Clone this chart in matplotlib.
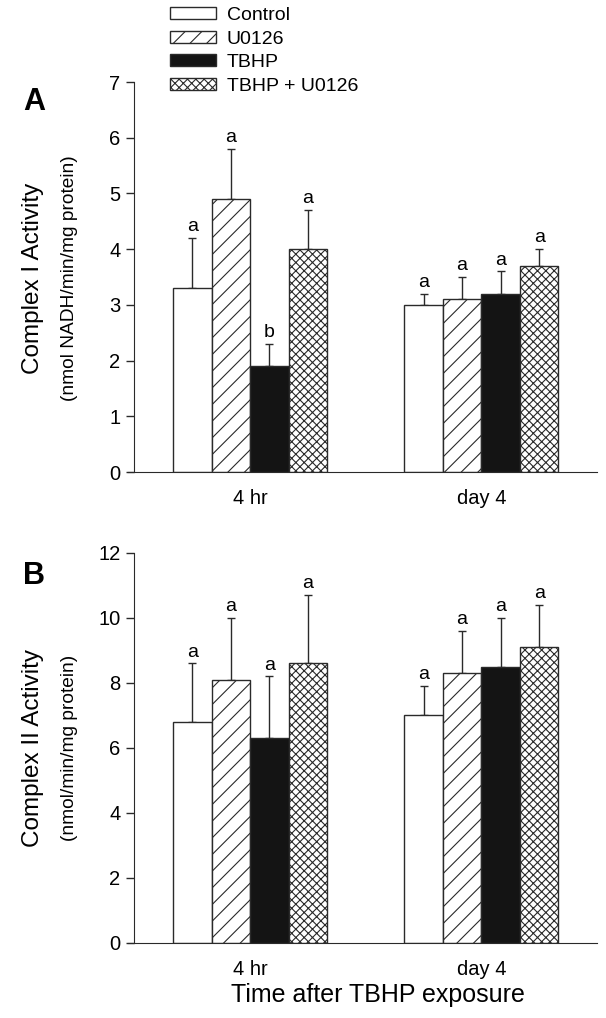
import matplotlib
matplotlib.use("Agg")
import matplotlib.pyplot as plt
from matplotlib.patches import Patch

plt.rcParams["font.family"] = ["Liberation Sans", "DejaVu Sans"]
plt.rcParams["hatch.linewidth"] = 0.8

GROUPS = ["4 hr", "day 4"]
SERIES = ["Control", "U0126", "TBHP", "TBHP + U0126"]

# Complex I (panel A): mean, error, letter per series, per group
C1_MEAN = {
    "Control": [3.3, 3.0],
    "U0126": [4.9, 3.1],
    "TBHP": [1.9, 3.2],
    "TBHP + U0126": [4.0, 3.7],
}
C1_ERR = {
    "Control": [0.9, 0.2],
    "U0126": [0.9, 0.4],
    "TBHP": [0.4, 0.4],
    "TBHP + U0126": [0.7, 0.3],
}
C1_LETTER = {
    "Control": ["a", "a"],
    "U0126": ["a", "a"],
    "TBHP": ["b", "a"],
    "TBHP + U0126": ["a", "a"],
}

# Complex II (panel B)
C2_MEAN = {
    "Control": [6.8, 7.0],
    "U0126": [8.1, 8.3],
    "TBHP": [6.3, 8.5],
    "TBHP + U0126": [8.6, 9.1],
}
C2_ERR = {
    "Control": [1.8, 0.9],
    "U0126": [1.9, 1.3],
    "TBHP": [1.9, 1.5],
    "TBHP + U0126": [2.1, 1.3],
}
C2_LETTER = {
    "Control": ["a", "a"],
    "U0126": ["a", "a"],
    "TBHP": ["a", "a"],
    "TBHP + U0126": ["a", "a"],
}

STYLE = {
    "Control": dict(facecolor="white", hatch=""),
    "U0126": dict(facecolor="white", hatch="//"),
    "TBHP": dict(facecolor="#141414", hatch=""),
    "TBHP + U0126": dict(facecolor="white", hatch="xxxx"),
}
EDGE = "#2a2a2a"

GROUP_START = [0.0, 6.0]
Y_SPINE = -1.0


def draw_panel(ax, means, errs, letters, ymax, yticks, letter_pad):
    for gi, start in enumerate(GROUP_START):
        for si, name in enumerate(SERIES):
            x = start + si + 0.5
            m = means[name][gi]
            e = errs[name][gi]
            st = STYLE[name]
            ax.bar(x, m, width=1.0, facecolor=st["facecolor"], hatch=st["hatch"],
                   edgecolor=EDGE, linewidth=1.0, zorder=2)
            ax.errorbar(x, m, yerr=[[0], [e]], fmt="none", ecolor=EDGE,
                        elinewidth=1.0, capsize=2.8, capthick=1.0, zorder=1)
            ax.text(x, m + e + letter_pad, letters[name][gi], ha="center",
                    va="bottom", fontsize=14)
    ax.set_xlim(-1.18, 11.0)
    ax.set_ylim(0, ymax)
    ax.set_yticks(yticks)
    ax.set_xticks([g + 2.0 for g in GROUP_START])
    ax.set_xticklabels(GROUPS, fontsize=14.5)
    ax.tick_params(axis="x", length=0, pad=12)
    ax.tick_params(axis="y", direction="out", length=6, width=1.0,
                   labelsize=14.5, pad=4, color=EDGE)
    for side in ["top", "right"]:
        ax.spines[side].set_visible(False)
    ax.spines["left"].set_position(("data", Y_SPINE))
    ax.spines["left"].set_color(EDGE)
    ax.spines["bottom"].set_color(EDGE)


fig = plt.figure(figsize=(6.06, 10.18), dpi=100)
ax_a = fig.add_axes([0.2104, 0.5363, 0.7748, 0.3831])
ax_b = fig.add_axes([0.2104, 0.0737, 0.7748, 0.3831])

draw_panel(ax_a, C1_MEAN, C1_ERR, C1_LETTER, 7, range(0, 8), 0.05)
draw_panel(ax_b, C2_MEAN, C2_ERR, C2_LETTER, 12, range(0, 13, 2), 0.09)

ax_b.set_xlabel("Time after TBHP exposure", fontsize=18, labelpad=3)
ax_b.xaxis.label.set_x(0.534)

fig.text(33 / 606, 1 - 278 / 1018, "Complex I Activity", rotation=90,
         fontsize=17.5, ha="center", va="center")
fig.text(69 / 606, 1 - 278 / 1018, "(nmol NADH/min/mg protein)", rotation=90,
         fontsize=13.8, ha="center", va="center")
fig.text(33 / 606, 1 - 748 / 1018, "Complex II Activity", rotation=90,
         fontsize=17.5, ha="center", va="center")
fig.text(69 / 606, 1 - 748 / 1018, "(nmol/min/mg protein)", rotation=90,
         fontsize=13.8, ha="center", va="center")

fig.text(34 / 606, 1 - 102 / 1018, "A", fontsize=22, fontweight="bold",
         ha="center", va="center")
fig.text(34 / 606, 1 - 576 / 1018, "B", fontsize=22, fontweight="bold",
         ha="center", va="center")

handles = [Patch(facecolor=STYLE[n]["facecolor"], hatch=STYLE[n]["hatch"],
                 edgecolor=EDGE, linewidth=1.0) for n in SERIES]
fig.legend(handles, SERIES, loc="upper left",
           bbox_to_anchor=(170 / 606, 1 - 7 / 1018),
           frameon=False, fontsize=14, handlelength=2.37, handleheight=0.57,
           labelspacing=0.34, handletextpad=0.55, borderpad=0.0,
           borderaxespad=0.0)

fig.savefig("out.png", dpi=100)
